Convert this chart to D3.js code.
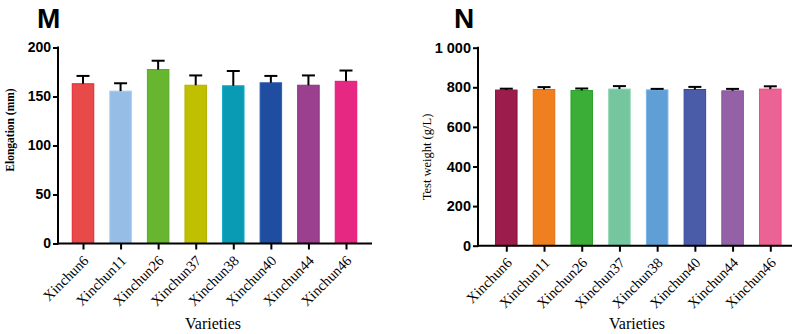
<!DOCTYPE html>
<html>
<head>
<meta charset="utf-8">
<script src="https://cdn.jsdelivr.net/npm/d3@7"></script>
<style>
  html, body { margin: 0; padding: 0; background: #fff; }
  svg { display: block; }
</style>
</head>
<body>
<svg id="chart" width="800" height="334"></svg>
<script>
const categories = ["Xinchun6","Xinchun11","Xinchun26","Xinchun37","Xinchun38","Xinchun40","Xinchun44","Xinchun46"];

const elongationMean = [163, 155.5, 177.5, 161.5, 161, 164, 161.5, 165.5];
const elongationErr  = [8, 8, 9, 10, 15, 7, 10, 11];
const elongationTicks = [0, 50, 100, 150, 200];

const weightMean = [786, 789, 784, 791, 787, 789, 782, 791];
const weightErr  = [7, 12, 10, 15, 5, 13, 10, 14];
const weightTicks = [0, 200, 400, 600, 800, 1000];

const colorsM = ["#e84a4a","#95bde6","#68b52f","#c0bf00","#0a9bb4","#1f4d9f","#9b3f8f","#e62883"];
const strokesM = ["#e82530","#a9cdef","#5aa82a","#b4b300","#15b0cc","#2a5cb8","#8e2f85","#ea1377"];
const colorsN = ["#9c1c4b","#f07f1f","#3bae37","#75c59e","#5f9fd6","#4a5ca8","#9561a6","#eb6393"];
const strokesN = ["#8a1040","#e86c10","#2aa02a","#8fd4b2","#76b4ea","#33489d","#85519a","#f0458a"];

const svg = d3.select("#chart");
const locale = d3.formatLocale({decimal: ".", thousands: " ", grouping: [3], currency: ["", ""]});
const fmt = locale.format(",");

function panel(opt) {
  const g = svg.append("g");
  const x = d3.scalePoint().domain(categories).range([opt.cx0, opt.cx1]);
  const y = d3.scaleLinear().domain(opt.domain).range([opt.y0, opt.y1]);
  const bw = 21.5;

  g.selectAll("rect.bar").data(categories).enter().append("rect")
    .attr("x", d => x(d) - bw / 2)
    .attr("y", (d, i) => y(opt.mean[i]))
    .attr("width", bw)
    .attr("height", (d, i) => y(0) - y(opt.mean[i]))
    .attr("fill", (d, i) => opt.colors[i])
    .attr("stroke", (d, i) => opt.strokes[i])
    .attr("stroke-width", 1);

  const eg = g.selectAll("g.err").data(categories).enter().append("g");
  eg.append("line")
    .attr("x1", d => x(d)).attr("x2", d => x(d))
    .attr("y1", (d, i) => y(opt.mean[i]))
    .attr("y2", (d, i) => y(opt.mean[i] + opt.err[i]))
    .attr("stroke", "#000").attr("stroke-width", 2);
  eg.append("line")
    .attr("x1", d => x(d) - 6.5).attr("x2", d => x(d) + 6.5)
    .attr("y1", (d, i) => y(opt.mean[i] + opt.err[i]))
    .attr("y2", (d, i) => y(opt.mean[i] + opt.err[i]))
    .attr("stroke", "#000").attr("stroke-width", 2);

  const ya = g.append("g")
    .attr("transform", `translate(${opt.ax},0)`)
    .call(d3.axisLeft(y).tickValues(opt.ticks).tickSize(5).tickPadding(2).tickFormat(fmt));
  ya.select(".domain").attr("stroke", "#000").attr("stroke-width", 2)
    .attr("d", `M0,${opt.y1 - 1}V${opt.y0 + 1}`);
  ya.selectAll(".tick line").attr("stroke", "#000").attr("stroke-width", 2);
  ya.selectAll(".tick text")
    .attr("font-family", "Liberation Sans, Arial, sans-serif")
    .attr("font-weight", "bold")
    .attr("font-size", opt.tickFont)
    .attr("fill", "#000");

  const xa = g.append("g")
    .attr("transform", `translate(0,${opt.y0})`)
    .call(d3.axisBottom(x).tickSize(6).tickSizeOuter(0));
  xa.select(".domain").attr("stroke", "#000").attr("stroke-width", 2)
    .attr("d", `M${opt.ax - 1},0H${opt.axEnd}`);
  xa.selectAll(".tick line").attr("stroke", "#000").attr("stroke-width", 2);
  xa.selectAll(".tick text")
    .attr("font-family", "Liberation Serif, Times New Roman, serif")
    .attr("font-size", 14.5)
    .attr("fill", "#000")
    .attr("text-anchor", "end")
    .attr("dy", null)
    .attr("y", null)
    .attr("transform", "translate(6,18) rotate(-45)");

  g.append("text")
    .attr("x", opt.xTitleX).attr("y", 329)
    .attr("text-anchor", "middle")
    .attr("font-family", "Liberation Serif, Times New Roman, serif")
    .attr("font-size", 16)
    .text("Varieties");

  g.append("text")
    .attr("transform", `translate(${opt.yTitleX},${opt.yTitleY}) rotate(-90)`)
    .attr("text-anchor", "middle")
    .attr("font-family", "Liberation Serif, Times New Roman, serif")
    .attr("font-size", opt.yTitleSize)
    .attr("font-weight", opt.yTitleWeight)
    .text(opt.yTitle);

  g.append("text")
    .attr("x", opt.letterX).attr("y", 28)
    .attr("font-family", "Liberation Sans, Arial, sans-serif")
    .attr("font-weight", "bold")
    .attr("font-size", 28)
    .text(opt.letter);
}

panel({
  cx0: 83, cx1: 346, y0: 243.5, y1: 47.5, domain: [0, 200], ax: 58, axEnd: 372,
  mean: elongationMean, err: elongationErr, ticks: elongationTicks,
  colors: colorsM, strokes: strokesM, tickFont: 14,
  xTitleX: 213, yTitleX: 14, yTitleY: 130, yTitleSize: 11.5, yTitleWeight: "bold",
  yTitle: "Elongation (mm)", letter: "M", letterX: 37
});

panel({
  cx0: 506.3, cx1: 770.3, y0: 245.7, y1: 47.7, domain: [0, 1000], ax: 478, axEnd: 792,
  mean: weightMean, err: weightErr, ticks: weightTicks,
  colors: colorsN, strokes: strokesN, tickFont: 14.5,
  xTitleX: 637, yTitleX: 431, yTitleY: 157, yTitleSize: 12.5, yTitleWeight: "normal",
  yTitle: "Test weight (g/L)", letter: "N", letterX: 454
});
</script>
</body>
</html>
